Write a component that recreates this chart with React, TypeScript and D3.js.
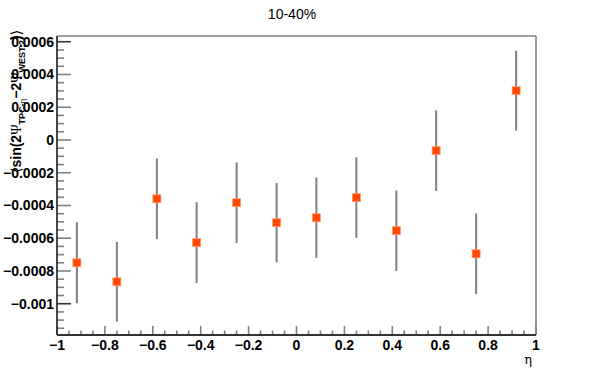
import React from "react";
import * as d3 from "d3";

const etaCenters = [-0.917, -0.75, -0.583, -0.417, -0.25, -0.083, 0.083, 0.25, 0.417, 0.583, 0.75, 0.917];
const values = [-0.00075, -0.000866, -0.000359, -0.000627, -0.000383, -0.000505, -0.000475, -0.000352, -0.000554, -0.0000654, -0.000695, 0.000301];
const errors = [0.000247, 0.000243, 0.000246, 0.000247, 0.000246, 0.000243, 0.000246, 0.000246, 0.000246, 0.000246, 0.000246, 0.000244];
const yMajorTicks = [-0.001, -0.0008, -0.0006, -0.0004, -0.0002, 0, 0.0002, 0.0004, 0.0006];
const yTickLabels = ["\u22120.001", "\u22120.0008", "\u22120.0006", "\u22120.0004", "\u22120.0002", "0", "0.0002", "0.0004", "0.0006"];
const xMajorTicks = [-1, -0.8, -0.6, -0.4, -0.2, 0, 0.2, 0.4, 0.6, 0.8, 1];
const xTickLabels = ["\u22121", "\u22120.8", "\u22120.6", "\u22120.4", "\u22120.2", "0", "0.2", "0.4", "0.6", "0.8", "1"];
const title = "10-40%";

const W = 596, H = 374;
const L = 57, R = 536, T = 36, B = 335;

export default function App() {
  const x = d3.scaleLinear().domain([-1, 1]).range([L, R]);
  const y = d3.scaleLinear().domain([-0.001191, 0.000635]).range([B, T]);
  const xMinor = d3.range(-1, 1.0001, 0.05).filter((v) => Math.abs(Math.round(v * 5) - v * 5) > 1e-6);
  const yMinor = d3.range(-0.00115, 0.00063, 0.00005).filter((v) => Math.abs(Math.round(v * 5000) - v * 5000) > 1e-6 && y(v) >= T && y(v) <= B);
  const font = "'Liberation Sans', Arial, Helvetica, sans-serif";
  const grey = "#808080";
  const dark = "#333";
  return (
    <svg width={W} height={H} style={{ position: "absolute", left: 0, top: 0, background: "#fff" }}>
      <rect x={0} y={0} width={W} height={H} fill="#fff" />
      {/* frame */}
      <line x1={L} x2={R} y1={T} y2={T} stroke={grey} strokeWidth={1.6} />
      <line x1={R} x2={R} y1={T} y2={B} stroke={grey} strokeWidth={1.6} />
      {/* y ticks */}
      {yMajorTicks.map((v, i) => (
        <line key={"ym" + i} x1={L} x2={L + 14} y1={y(v)} y2={y(v)} stroke={i === 0 || i === yMajorTicks.length - 1 ? dark : grey} strokeWidth={1.6} />
      ))}
      {yMinor.map((v, i) => (
        <line key={"yn" + i} x1={L} x2={L + 7} y1={y(v)} y2={y(v)} stroke={grey} strokeWidth={1.6} />
      ))}
      {/* x ticks */}
      {xMajorTicks.map((v, i) => (
        <line key={"xm" + i} x1={x(v)} x2={x(v)} y1={B} y2={B - 9} stroke={grey} strokeWidth={1.6} />
      ))}
      {xMinor.map((v, i) => (
        <line key={"xn" + i} x1={x(v)} x2={x(v)} y1={B} y2={B - 4.5} stroke={grey} strokeWidth={1.6} />
      ))}
      {/* axes */}
      <line x1={L} x2={L} y1={T} y2={B} stroke={dark} strokeWidth={1.8} />
      <line x1={L} x2={R} y1={B} y2={B} stroke={dark} strokeWidth={1.8} />
      {/* y labels */}
      {yMajorTicks.map((v, i) => (
        <text key={"yl" + i} x={L - 3} y={y(v) + 5} textAnchor="end" fontFamily={font} fontWeight="bold" fontSize={14} fill="#000">
          {yTickLabels[i]}
        </text>
      ))}
      {/* x labels */}
      {xMajorTicks.map((v, i) => (
        <text key={"xl" + i} x={x(v)} y={349.5} textAnchor="middle" fontFamily={font} fontWeight="bold" fontSize={14} fill="#000">
          {xTickLabels[i]}
        </text>
      ))}
      {/* error bars and markers */}
      {etaCenters.map((c, i) => (
        <line key={"e" + i} x1={x(c)} x2={x(c)} y1={y(values[i] - errors[i])} y2={y(values[i] + errors[i])} stroke={grey} strokeWidth={2} />
      ))}
      {etaCenters.map((c, i) => (
        <rect key={"m" + i} x={x(c) - 4} y={y(values[i]) - 4} width={8} height={8} fill="#ff4a00" stroke="#ff9a77" strokeWidth={0.8} />
      ))}
      {/* title */}
      <text x={292} y={18.5} textAnchor="middle" fontFamily={font} fontSize={14} fill="#000">
        {title}
      </text>
      {/* x axis title */}
      <text x={532} y={364} textAnchor="end" fontFamily="'DejaVu Serif', serif" fontSize={13} fill="#000">
        η
      </text>
      {/* y axis title */}
      <text transform="translate(21,173) rotate(-90)" fontFamily={font} fontWeight="bold" fontSize={14} fill="#000">
        <tspan fontFamily="'DejaVu Serif', serif" fontWeight="normal">⟨</tspan>
        <tspan>sin(2</tspan>
        <tspan fontFamily="'Liberation Serif', serif" fontWeight="normal">Ψ</tspan>
        <tspan fontSize={9} dy={4}>TPC-</tspan>
        <tspan fontSize={9} fontFamily="'Liberation Serif', serif" fontWeight="normal">η</tspan>
        <tspan dy={-4}>−2</tspan>
        <tspan fontFamily="'Liberation Serif', serif" fontWeight="normal">Ψ</tspan>
        <tspan fontSize={9} dy={4}>WEST,2</tspan>
        <tspan dy={-4}>)</tspan>
        <tspan fontFamily="'DejaVu Serif', serif" fontWeight="normal">⟩</tspan>
      </text>
    </svg>
  );
}
